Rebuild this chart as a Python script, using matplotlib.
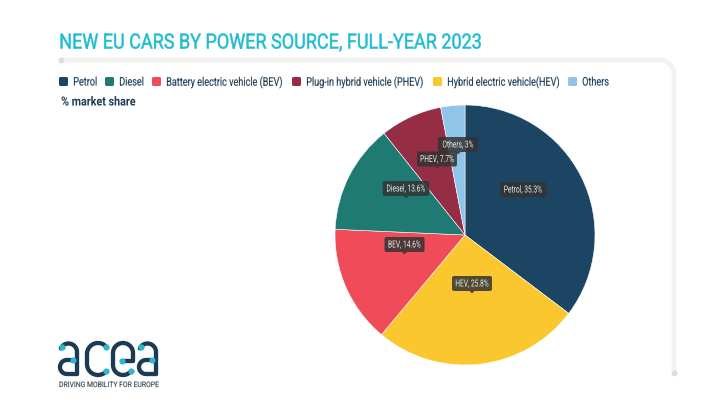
import matplotlib

matplotlib.use("Agg")

import matplotlib.pyplot as plt
import numpy as np
from matplotlib.patches import FancyBboxPatch, Polygon
from matplotlib.patheffects import AbstractPathEffect
from matplotlib.text import Text
from matplotlib.transforms import Affine2D, Bbox

TITLE = "NEW EU CARS BY POWER SOURCE, FULL-YEAR 2023"
SUBTITLE = "% market share"
LOGO_TEXT = "DRIVING MOBILITY FOR EUROPE"
LEGEND_NAMES = [
    "Petrol",
    "Diesel",
    "Battery electric vehicle (BEV)",
    "Plug-in hybrid vehicle (PHEV)",
    "Hybrid electric vehicle(HEV)",
    "Others",
]
LEGEND_COLORS = ["#1b4562", "#1f7a74", "#f04b58", "#952e45", "#fac72e", "#90c4e8"]
LEGEND_SQUARE_X = [59, 105, 152, 292, 433, 568]

# slices, clockwise from the top
SHORT_NAMES = ["Petrol", "HEV", "BEV", "Diesel", "PHEV", "Others"]
SHARES = [35.3, 25.8, 14.6, 13.6, 7.7, 3]
SLICE_COLORS = ["#1b4562", "#fac72e", "#f04b58", "#1f7a74", "#952e45", "#90c4e8"]
TIP_X = [523, 472, 404.5, 406, 437, 458]
TIP_Y = [189.5, 283.5, 244.5, 188.5, 159, 144.5]

NAVY = "#1b3a54"
CYAN = "#1fbcd2"
DOT = "#2bb7d0"

plt.rcParams["font.family"] = ["Roboto", "DejaVu Sans"]


def Y(y):
    # picture is read top-down, the axes go bottom-up
    return 405 - y


class Squeeze(AbstractPathEffect):
    # no condensed face is installed, so narrow the glyphs when they are drawn
    def __init__(self, factor, centered, weight):
        super().__init__()
        self.factor = factor
        self.centered = centered
        self.weight = weight

    def draw_path(self, renderer, gc, tpath, affine, rgbFace=None):
        ext = tpath.get_extents(affine)
        pivot = (ext.x0 + ext.x1) / 2 if self.centered else ext.x0
        squeeze = Affine2D().translate(-pivot, 0).scale(self.factor, 1).translate(pivot, 0)
        gc.set_linewidth(self.weight)
        renderer.draw_path(gc, tpath, affine + squeeze, rgbFace)


class NarrowText(Text):
    def __init__(self, x, y, text, factor, weight=0.0, **kwargs):
        super().__init__(x, y, text, **kwargs)
        self.factor = factor
        self.set_path_effects([Squeeze(factor, self.get_ha() == "center", weight)])

    def get_window_extent(self, renderer=None, dpi=None):
        box = super().get_window_extent(renderer, dpi)
        if self.get_ha() == "center":
            mid = (box.x0 + box.x1) / 2
            half = box.width * self.factor / 2
            return Bbox([[mid - half, box.y0], [mid + half, box.y1]])
        return Bbox([[box.x0, box.y0], [box.x0 + box.width * self.factor, box.y1]])


def narrow_text(ax, x, y, text, factor, **kwargs):
    kwargs.setdefault("va", "center")
    kwargs.setdefault("ha", "left")
    artist = NarrowText(x, Y(y), text, factor, **kwargs)
    ax.add_artist(artist)
    return artist


def arc_pts(cx, cy, r, start, end):
    t = np.radians(np.linspace(start, end, 40))
    return cx + r * np.cos(t), Y(cy) + r * np.sin(t)


def stroke(ax, parts, color=NAVY, lw=3.1):
    # parts are (x, y) arrays drawn one after another as a single line
    xs = np.concatenate([np.atleast_1d(p[0]) for p in parts])
    ys = np.concatenate([np.atleast_1d(p[1]) for p in parts])
    ax.plot(xs, ys, color=color, lw=lw, solid_capstyle="round", solid_joinstyle="round")


def draw_frame(ax):
    color = "#f2f2f2"
    stroke(ax, [([61, 660], [Y(60), Y(60)]), arc_pts(660, 74, 14, 90, 0), ([674, 674], [Y(74), Y(373)])], color, 3.4)
    ax.scatter([61, 674], [Y(60), Y(373)], s=18, color="#dddddd", zorder=2, linewidths=0)


def draw_letter_a(ax, left):
    right = left + 17
    stroke(ax, [arc_pts(left + 8.5, 352, 8.5, 155, 0), ([right, right], [Y(352), Y(374)])])
    stroke(ax, [([left + 13, left + 8], [Y(360), Y(360)]), arc_pts(left + 7, 367, 7, 90, 270), ([left + 7, right], [Y(374), Y(374)])])


def draw_logo(ax):
    draw_letter_a(ax, 60)
    draw_letter_a(ax, 139)
    # c
    stroke(ax, [arc_pts(98, 354, 11, 40, 180), arc_pts(98, 364, 11, 180, 320)])
    # e
    stroke(ax, [([122, 133], [Y(361), Y(361)]), arc_pts(123, 353, 10, 0, 180), arc_pts(123, 365, 10, 180, 320)])
    dots_x = [62, 73, 106, 106, 122, 131, 141, 152]
    dots_y = [347, 360, 347, 371, 361, 371, 347, 360]
    ax.scatter(dots_x, [Y(v) for v in dots_y], s=20, color=DOT, zorder=4, linewidths=0)
    narrow_text(ax, 59, 385.5, LOGO_TEXT, 0.91, weight=0.12, fontsize=5.4, color="#3d4f5c")


def draw_tooltip(ax, x, y, label):
    w = 2.2 * len(label) + 18
    h = 15
    box = FancyBboxPatch((x - w / 2 + 1.5, Y(y) - h / 2 + 1.5), w - 3, h - 3, boxstyle="round,pad=1.5,rounding_size=2",
                         fc="#333333", ec="none", alpha=0.85, zorder=5)
    ax.add_patch(box)
    tip = Polygon([(x - 2.5, Y(y) - h / 2), (x + 2.5, Y(y) - h / 2), (x, Y(y) - h / 2 - 2.5)],
                  fc="#333333", ec="none", alpha=0.85, zorder=5)
    ax.add_patch(tip)
    narrow_text(ax, x, y, label, 0.68, color="#ebebeb", fontsize=7, ha="center", zorder=6)


def main():
    fig = plt.figure(figsize=(7.2, 4.05), dpi=100)
    ax = fig.add_axes([0, 0, 1, 1])

    ax.pie(
        SHARES,
        colors=SLICE_COLORS,
        startangle=90,
        counterclock=False,
        center=(465, Y(235)),
        radius=130,
        frame=True,
        wedgeprops={"linewidth": 0.4, "edgecolor": "white"},
    )
    ax.set_xlim(0, 720)
    ax.set_ylim(0, 405)
    ax.set_aspect("auto")
    ax.axis("off")

    draw_frame(ax)

    narrow_text(ax, 59, 43, TITLE, 0.865, weight=0.35, fontsize=15, color=CYAN)
    for name, color, x in zip(LEGEND_NAMES, LEGEND_COLORS, LEGEND_SQUARE_X):
        ax.add_patch(FancyBboxPatch((x + 1, Y(86) + 1), 7, 7, boxstyle="round,pad=1,rounding_size=1.5", fc=color, ec="none"))
        narrow_text(ax, x + 14, 82, name, 0.77, weight=0.1, fontsize=8.5, color=NAVY)
    narrow_text(ax, 61, 102, SUBTITLE, 0.86, fontsize=9, color=NAVY, fontweight="bold")

    for short, share, x, y in zip(SHORT_NAMES, SHARES, TIP_X, TIP_Y):
        draw_tooltip(ax, x, y, f"{short}, {share:g}%")

    draw_logo(ax)

    fig.savefig("out.png", dpi=100)
    plt.close(fig)


if __name__ == "__main__":
    main()
